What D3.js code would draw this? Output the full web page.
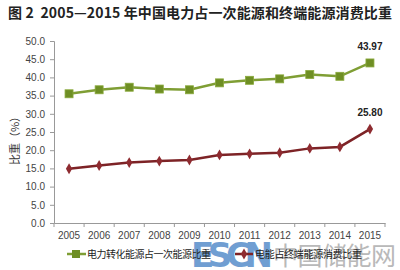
<!DOCTYPE html>
<html>
<head>
<meta charset="utf-8">
<script src="https://cdn.jsdelivr.net/npm/d3@7"></script>
<style>
body{margin:0;background:#fff;}
svg{display:block;font-family:"Liberation Sans","DejaVu Sans",sans-serif;}
</style>
</head>
<body>
<svg id="chart" width="400" height="270"></svg>
<script>
// data
var years = ["2005","2006","2007","2008","2009","2010","2011","2012","2013","2014","2015"];
var primaryShare = [35.5, 36.6, 37.3, 36.8, 36.6, 38.5, 39.2, 39.6, 40.8, 40.3, 43.97];
var finalShare = [14.9, 15.8, 16.6, 17.0, 17.3, 18.7, 19.0, 19.3, 20.5, 20.9, 25.80];
var yTicks = [0,5,10,15,20,25,30,35,40,45,50];
var seriesNames = ["电力转化能源占一次能源比重", "电能占终端能源消费比重"];

var svg = d3.select("#chart");
var plotLeft = 54, plotRight = 385, plotTop = 41, plotBottom = 223;

var x = d3.scaleBand().domain(years).range([plotLeft, plotRight]);
var y = d3.scaleLinear().domain([0, 50]).range([plotBottom, plotTop]);

// title
svg.append("text")
    .attr("x", 8).attr("y", 18)
    .style("font-family", "'Noto Sans CJK SC',sans-serif")
    .style("font-size", "14px").style("font-weight", "bold")
    .attr("fill", "#222").attr("textLength", 384)
    .text("图 2\u00a0\u00a02005—2015 年中国电力占一次能源和终端能源消费比重");

// y axis
var yAxis = svg.append("g")
    .attr("transform", "translate(" + plotLeft + ",0)")
    .call(d3.axisLeft(y).tickValues(yTicks).tickSize(4).tickPadding(5).tickFormat(d3.format(".1f")));
yAxis.selectAll("line,path").attr("stroke", "#999");
yAxis.selectAll("text").style("font-size", "10px").attr("fill", "#444");

// x axis, ticks between categories
var xAxis = svg.append("g")
    .attr("transform", "translate(0," + plotBottom + ")")
    .call(d3.axisBottom(x).tickSizeOuter(0).tickSize(0).tickPadding(9));
xAxis.select("path").attr("stroke", "#999");
xAxis.selectAll("text").style("font-size", "10px").attr("fill", "#444");
xAxis.selectAll(".sep")
    .data(years.concat(["end"]))
    .enter().append("line")
    .attr("x1", function(d, i){return plotLeft + i*x.step();})
    .attr("x2", function(d, i){return plotLeft + i*x.step();})
    .attr("y1", 0).attr("y2", 4)
    .attr("stroke", "#999");

svg.append("text")
    .attr("transform", "translate(19,138) rotate(-90)")
    .attr("text-anchor", "middle")
    .style("font-family", "'Noto Sans CJK SC',sans-serif")
    .style("font-size", "11px")
    .attr("fill", "#333")
    .text("比重（%）");

var cx = function(d, i){return x(years[i]) + x.bandwidth()/2;};
var line = d3.line().x(cx).y(function(d){return y(d);});

// green series
svg.append("path").datum(primaryShare)
    .attr("d", line).attr("fill", "none")
    .attr("stroke", "#7f9e34").attr("stroke-width", 2.5);
svg.selectAll(".sq").data(primaryShare).enter().append("rect")
    .attr("x", function(d, i){return cx(d, i) - 4;})
    .attr("y", function(d){return y(d) - 4;})
    .attr("width", 8).attr("height", 8)
    .attr("fill", "#6e8e24").attr("stroke", "#8aaa3c").attr("stroke-width", 0.8);

// red series
svg.append("path").datum(finalShare)
    .attr("d", line).attr("fill", "none")
    .attr("stroke", "#7d2326").attr("stroke-width", 2.5);
svg.selectAll(".dm").data(finalShare).enter().append("path")
    .attr("d", d3.symbol().type(d3.symbolDiamond).size(34))
    .attr("transform", function(d, i){return "translate(" + cx(d, i) + "," + y(d) + ")";})
    .attr("fill", "#8e2b30");

// end labels
var last = years.length - 1;
[primaryShare, finalShare].forEach(function(s){
    svg.append("text")
        .attr("x", cx(s[last], last)).attr("y", y(s[last]) - 13)
        .attr("text-anchor", "middle")
        .style("font-size", "10px").style("font-weight", "bold")
        .attr("fill", "#222")
        .text(d3.format(".2f")(s[last]));
});

// watermark
var wm = svg.append("g").attr("opacity", 0.8);
wm.append("text").attr("x", 191).attr("y", 267)
    .style("font-family", "'DejaVu Sans',sans-serif")
    .style("font-size", "34px").style("font-weight", "bold")
    .attr("fill", "#4d87c7").attr("textLength", 82)
    .text("ESCN");
wm.append("text").attr("x", 273).attr("y", 265)
    .style("font-family", "'Noto Sans CJK SC',sans-serif")
    .style("font-size", "25px")
    .attr("fill", "#a8a8a8").attr("textLength", 123)
    .text("中国储能网");

// legend
var legend = svg.append("g").attr("transform", "translate(0,254)");
legend.append("line").attr("x1", 67).attr("x2", 86).attr("stroke", "#7f9e34").attr("stroke-width", 2.5);
legend.append("rect").attr("x", 72).attr("y", -4).attr("width", 8).attr("height", 8).attr("fill", "#6e8e24");
legend.append("text").attr("x", 87).attr("y", 4)
    .style("font-family", "'Noto Sans CJK SC',sans-serif").style("font-size", "10px")
    .attr("fill", "#222").attr("textLength", 124).text(seriesNames[0]);
legend.append("line").attr("x1", 235).attr("x2", 253).attr("stroke", "#7d2326").attr("stroke-width", 2.5);
legend.append("path").attr("d", d3.symbol().type(d3.symbolDiamond).size(34)).attr("transform", "translate(244,0)").attr("fill", "#8e2b30");
legend.append("text").attr("x", 255).attr("y", 4)
    .style("font-family", "'Noto Sans CJK SC',sans-serif").style("font-size", "10px")
    .attr("fill", "#222").attr("textLength", 107).text(seriesNames[1]);
</script>
</body>
</html>
